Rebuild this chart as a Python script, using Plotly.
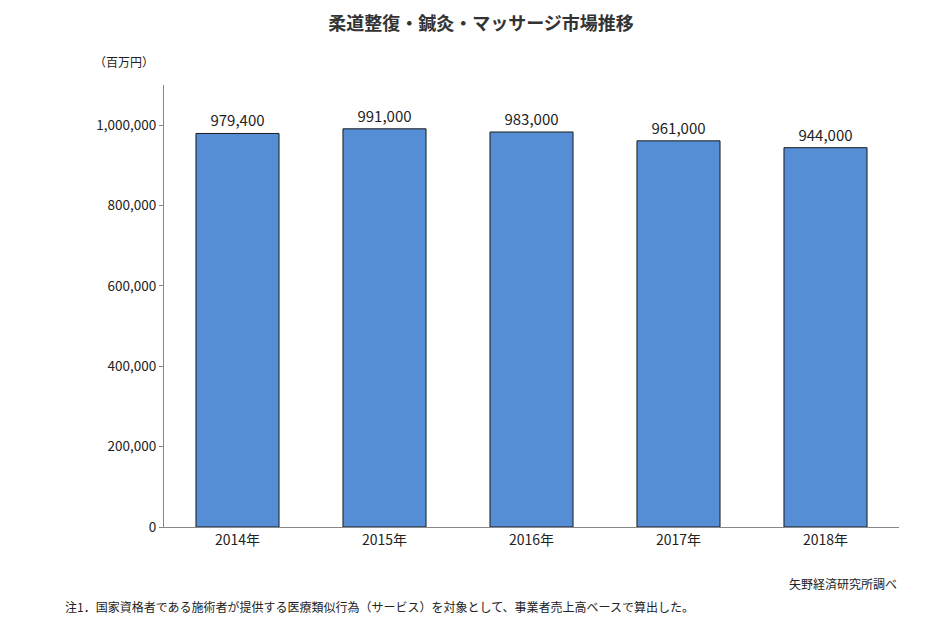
import plotly.graph_objects as go

categories = ["2014年", "2015年", "2016年", "2017年", "2018年"]
values = [979400, 991000, 983000, 961000, 944000]
labels = ["979,400", "991,000", "983,000", "961,000", "944,000"]
tick_vals = [0, 200000, 400000, 600000, 800000, 1000000]
tick_text = ["0", "200,000", "400,000", "600,000", "800,000", "1,000,000"]

font = "Noto Sans CJK JP"
fig = go.Figure(go.Bar(
    x=categories, y=values, text=labels, textposition="outside",
    textfont=dict(size=15, color="#222"), cliponaxis=False,
    marker=dict(color="#558ED5", line=dict(color="#1a1a1a", width=1)),
    width=0.565,
))
fig.update_layout(
    width=946, height=626, margin=dict(l=156, r=55, t=77, b=107),
    plot_bgcolor="white", paper_bgcolor="white",
    font=dict(family=font, color="#222"), showlegend=False,
    title=dict(text="<b>柔道整復・鍼灸・マッサージ市場推移</b>", x=0.5, xanchor="center",
               y=0.985, yanchor="top", font=dict(size=18, color="#333")),
    xaxis=dict(showline=True, linecolor="#888", linewidth=1, ticks="", tickfont=dict(size=14)),
    yaxis=dict(range=[0, 1100000], tickvals=tick_vals, ticktext=tick_text, showgrid=False,
               showline=True, linecolor="#888", linewidth=1, ticks="outside", ticklen=4,
               tickcolor="#888", tickfont=dict(size=13.5), zeroline=False),
    annotations=[
        dict(text="（百万円）", xref="paper", yref="paper", x=-0.055, y=1.03, xanchor="center",
             yanchor="bottom", showarrow=False, font=dict(size=12)),
        dict(text="矢野経済研究所調べ", xref="paper", yref="paper", x=1.0, y=-0.104,
             xanchor="right", yanchor="top", showarrow=False, font=dict(size=12)),
        dict(text="注1．国家資格者である施術者が提供する医療類似行為（サービス）を対象として、事業者売上高ベースで算出した。",
             xref="paper", yref="paper", x=-0.137, y=-0.156, xanchor="left", yanchor="top",
             showarrow=False, font=dict(size=12)),
    ],
)
fig.write_html("out.html")
